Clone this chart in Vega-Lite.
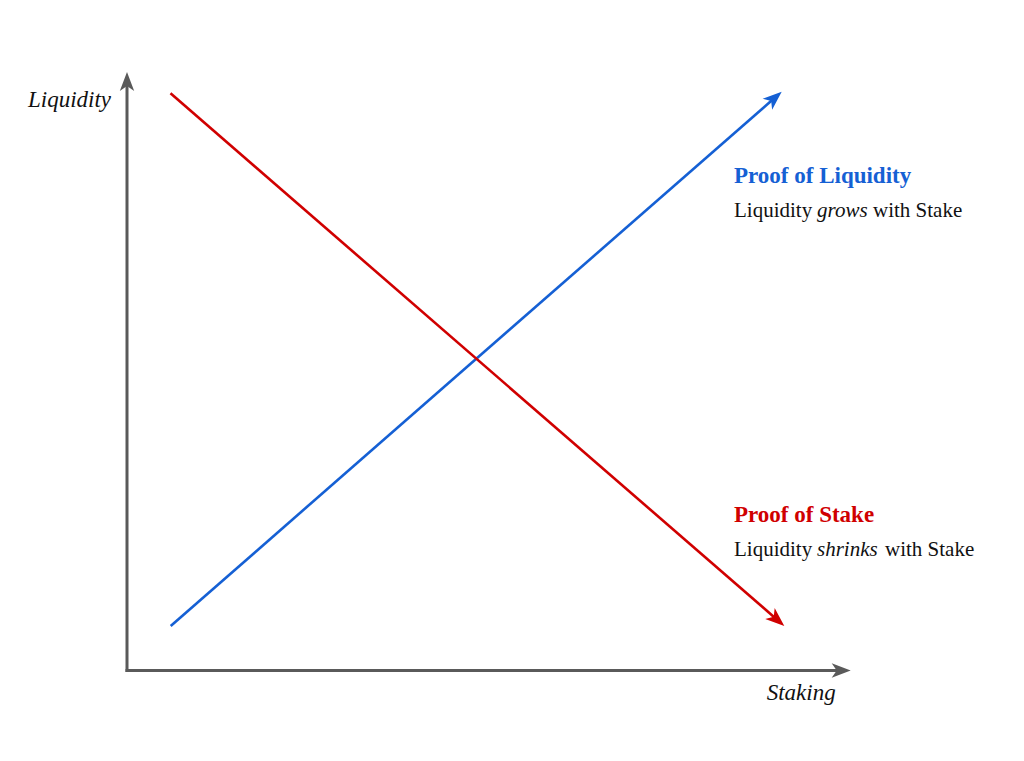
{
  "$schema": "https://vega.github.io/schema/vega-lite/v6.json",
  "width": 1024,
  "height": 761,
  "autosize": {"type": "fit", "contains": "padding"},
  "padding": 0,
  "background": "white",
  "config": {"view": {"stroke": null}},
  "datasets": {
    "lines": [
      {"series": "axis", "part": "y-axis", "order": 0, "x": 0, "y": 0},
      {"series": "axis", "part": "y-axis", "order": 1, "x": 0, "y": 5.86},
      {"series": "axis", "part": "x-axis", "order": 0, "x": 0, "y": 0},
      {"series": "axis", "part": "x-axis", "order": 1, "x": 7.11, "y": 0},
      {"series": "liquidity", "part": "liquidity", "order": 0, "x": 0.437, "y": 0.445},
      {"series": "liquidity", "part": "liquidity", "order": 1, "x": 6.472, "y": 5.722},
      {"series": "stake", "part": "stake", "order": 0, "x": 0.435, "y": 5.772},
      {"series": "stake", "part": "stake", "order": 1, "x": 6.498, "y": 0.511}
    ],
    "arrows": [
      {"series": "axis", "x": 0, "y": 5.985, "direction": 0},
      {"series": "axis", "x": 7.237, "y": 0, "direction": 90},
      {"series": "liquidity", "x": 6.547, "y": 5.788, "direction": 48.8},
      {"series": "stake", "x": 6.573, "y": 0.445, "direction": 131}
    ],
    "texts": [
      {"kind": "axis", "series": "text", "text": "Liquidity", "x": -0.99, "y": 5.64},
      {"kind": "axis", "series": "text", "text": "Staking", "x": 6.397, "y": -0.295},
      {"kind": "title", "series": "liquidity", "text": "Proof of Liquidity", "x": 6.07, "y": 4.872},
      {"kind": "title", "series": "stake", "text": "Proof of Stake", "x": 6.07, "y": 1.485},
      {"kind": "plain", "series": "text", "text": "Liquidity", "x": 6.07, "y": 4.538},
      {"kind": "emph", "series": "text", "text": "grows", "x": 6.90, "y": 4.538},
      {"kind": "plain", "series": "text", "text": "with Stake", "x": 7.46, "y": 4.538},
      {"kind": "plain", "series": "text", "text": "Liquidity", "x": 6.07, "y": 1.148},
      {"kind": "emph", "series": "text", "text": "shrinks", "x": 6.90, "y": 1.148},
      {"kind": "plain", "series": "text", "text": "with Stake", "x": 7.58, "y": 1.148}
    ]
  },
  "encoding": {
    "x": {"field": "x", "type": "quantitative", "axis": null, "scale": {"domain": [-1.27, 8.97], "nice": false, "zero": false}},
    "y": {"field": "y", "type": "quantitative", "axis": null, "scale": {"domain": [-0.905, 6.705], "nice": false, "zero": false}},
    "color": {"field": "series", "type": "nominal", "legend": null, "scale": {"domain": ["axis", "liquidity", "stake", "text"], "range": ["#5a5a5a", "#1560d4", "#d00000", "#111111"]}}
  },
  "layer": [
    {
      "data": {"name": "lines"},
      "transform": [{"filter": "datum.series === 'axis'"}],
      "mark": {"type": "line", "strokeWidth": 3, "strokeCap": "square"},
      "encoding": {"detail": {"field": "part"}, "order": {"field": "order"}}
    },
    {
      "data": {"name": "lines"},
      "transform": [{"filter": "datum.series !== 'axis'"}],
      "mark": {"type": "line", "strokeWidth": 2.6, "strokeCap": "butt"},
      "encoding": {"detail": {"field": "part"}, "order": {"field": "order"}}
    },
    {
      "data": {"name": "arrows"},
      "mark": {"type": "point", "filled": true, "opacity": 1, "size": 400, "shape": "M0,0 L0.72,1.9 L0,1.4 L-0.72,1.9 Z"},
      "encoding": {"angle": {"field": "direction", "type": "quantitative", "scale": null}}
    },
    {
      "data": {"name": "texts"},
      "transform": [{"filter": "datum.kind === 'axis'"}],
      "mark": {"type": "text", "align": "left", "baseline": "alphabetic", "font": "Liberation Serif", "fontSize": 23, "fontStyle": "italic"},
      "encoding": {"text": {"field": "text"}}
    },
    {
      "data": {"name": "texts"},
      "transform": [{"filter": "datum.kind === 'title'"}],
      "mark": {"type": "text", "align": "left", "baseline": "alphabetic", "font": "Liberation Serif", "fontSize": 23, "fontWeight": "bold"},
      "encoding": {"text": {"field": "text"}}
    },
    {
      "data": {"name": "texts"},
      "transform": [{"filter": "datum.kind === 'plain'"}],
      "mark": {"type": "text", "align": "left", "baseline": "alphabetic", "font": "Liberation Serif", "fontSize": 21},
      "encoding": {"text": {"field": "text"}}
    },
    {
      "data": {"name": "texts"},
      "transform": [{"filter": "datum.kind === 'emph'"}],
      "mark": {"type": "text", "align": "left", "baseline": "alphabetic", "font": "Liberation Serif", "fontSize": 21, "fontStyle": "italic"},
      "encoding": {"text": {"field": "text"}}
    }
  ]
}
